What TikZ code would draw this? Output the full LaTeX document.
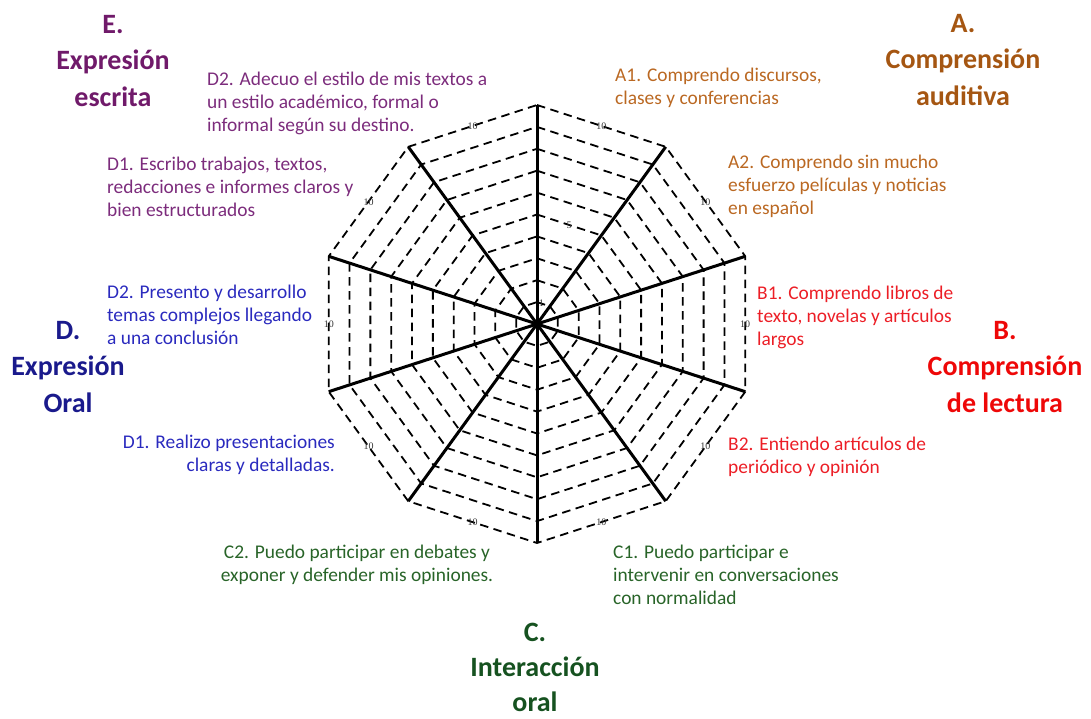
\documentclass[tikz,border=0pt]{standalone}
\usepackage{fontspec}
\setmainfont{Carlito}
\newfontfamily\tickfont{Liberation Serif}
\usetikzlibrary{calc}

\definecolor{itemA}{RGB}{186,104,34}
\definecolor{headA}{RGB}{165,86,18}
\definecolor{itemB}{RGB}{236,30,38}
\definecolor{headB}{RGB}{238,8,8}
\definecolor{itemC}{RGB}{40,100,40}
\definecolor{headC}{RGB}{22,82,32}
\definecolor{itemD}{RGB}{42,42,190}
\definecolor{headD}{RGB}{26,26,140}
\definecolor{itemE}{RGB}{124,44,124}
\definecolor{headE}{RGB}{112,26,106}

\begin{document}
\begin{tikzpicture}[
		x=1pt, y=1pt,
		ring/.style={
			draw=black,
			dash pattern=on 8.5pt off 5.5pt,
			line width=1.8pt},
		axis/.style={
			draw=black,
			line width=3pt},
		tick/.style={
			inner sep=0pt,
			text=black!80,
			font=\tickfont\fontsize{10}{10}\selectfont},
		item/.style={
			inner sep=0pt,
			align=left,
			font=\fontsize{19.4}{23}\selectfont},
		heading/.style={
			inner sep=0pt,
			anchor=north,
			align=center,
			font=\fontsize{28}{36.5}\selectfont\bfseries},
		]
		\useasboundingbox (-537,-394) rectangle (554,324);

		%Rings
		\foreach \k in {1,...,10}{
			\draw[ring] (90:\k*21.9) \foreach \a in {1,...,9}{ -- (90-\a*36:\k*21.9)} -- cycle;
		}

		%Axes
		\foreach \i in {0,...,9}{
			\coordinate (v\i) at (90-\i*36:219);
		}
		\foreach \i/\j in {0/5, 1/6, 2/7, 3/8, 4/9}{
			\draw[axis] (v\i) -- (v\j);
		}

		%Scale labels
		\foreach \i in {0,...,9}{
			\node (ten\i)[tick] at (72-\i*36:208) {10};
		}
		\node (five)[tick] at (72:104) {5};
		\node (one)[tick] at (78:21) {1};

		%A. Comprension auditiva
		\node (headA)[heading, text=headA] at (426,310) {A.\\Comprensión\\auditiva};
		\node (itemAone)[item, anchor=north west, text=itemA] at (78,256.5) {A1. Comprendo discursos,\\clases y conferencias};
		\node (itemAtwo)[item, anchor=north west, text=itemA] at (191,169.5) {A2. Comprendo sin mucho\\esfuerzo películas y noticias\\en español};

		%B. Comprension de lectura
		\node (headB)[heading, text=headB] at (468,3) {B.\\Comprensión\\de lectura};
		\node (itemBone)[item, anchor=north west, text=itemB] at (220,38.5) {B1. Comprendo libros de\\texto, novelas y artículos\\largos};
		\node (itemBtwo)[item, anchor=north west, text=itemB] at (191,-112.5) {B2. Entiendo artículos de\\periódico y opinión};

		%C. Interaccion oral
		\node (headC)[heading, text=headC, font=\fontsize{28}{35}\selectfont\bfseries] at (-2,-299) {C.\\Interacción\\oral};
		\node (itemCone)[item, anchor=north west, text=itemC] at (76,-220.5) {C1. Puedo participar e\\intervenir en conversaciones\\con normalidad};
		\node (itemCtwo)[item, anchor=north, align=center, text=itemC] at (-180,-220.5) {C2. Puedo participar en debates y\\exponer y defender mis opiniones.};

		%D. Expresion oral
		\node (headD)[heading, text=headD] at (-469,3) {D.\\Expresión\\Oral};
		\node (itemDone)[item, anchor=north east, align=right, text=itemD] at (-202,-110.5) {D1. Realizo presentaciones\\claras y detalladas.};
		\node (itemDtwo)[item, anchor=north west, text=itemD] at (-430,39.5) {D2. Presento y desarrollo\\temas complejos llegando\\a una conclusión};

		%E. Expresion escrita
		\node (headE)[heading, text=headE] at (-424,309) {E.\\Expresión\\escrita};
		\node (itemEone)[item, anchor=north west, text=itemE] at (-430,167.5) {D1. Escribo trabajos, textos,\\redacciones e informes claros y\\bien estructurados};
		\node (itemEtwo)[item, anchor=north west, text=itemE] at (-330,252.5) {D2. Adecuo el estilo de mis textos a\\un estilo académico, formal o\\informal según su destino.};

	\end{tikzpicture}
\end{document}
